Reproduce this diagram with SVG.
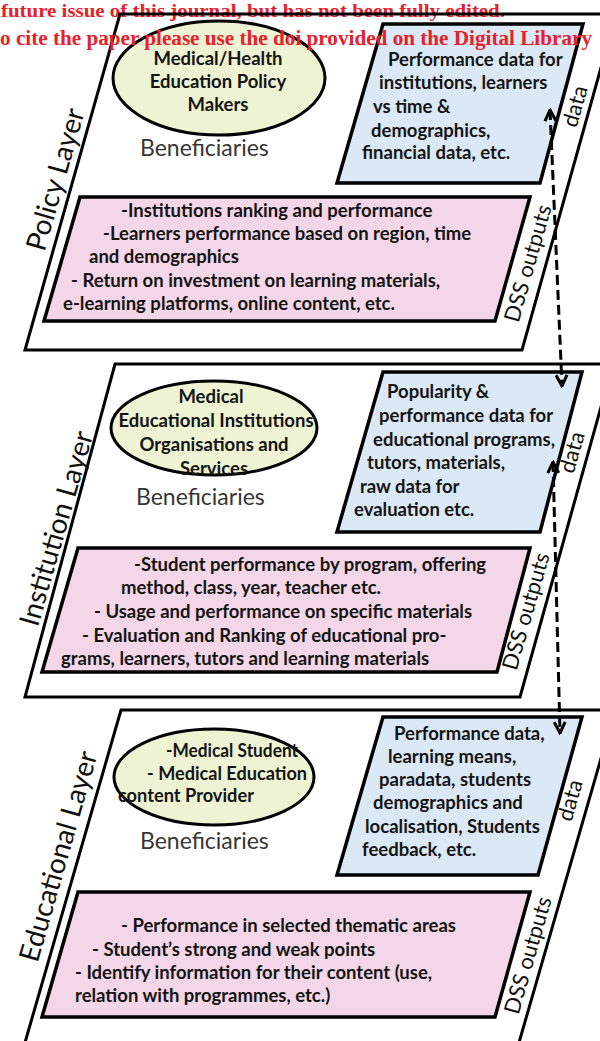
<svg xmlns="http://www.w3.org/2000/svg" width="600" height="1041" viewBox="0 0 600 1041">
<defs>
<style>
.outer{fill:none;stroke:#000;stroke-width:3}
.ell{fill:#eef3d3;stroke:#000;stroke-width:3}
.blue{fill:#dbe8f6;stroke:#000;stroke-width:3.5}
.pink{fill:#f3d6e7;stroke:#000;stroke-width:3.5}
.b{font-family:Lato,"Open Sans","Liberation Sans",sans-serif;font-weight:700;font-size:18.5px;fill:#141414}
.ben{font-family:Lato,"Open Sans","Liberation Sans",sans-serif;font-size:23px;fill:#363636}
.lay{font-family:Lato,"Open Sans","Liberation Sans",sans-serif;font-size:28px;fill:#111}
.side{font-family:Lato,"Open Sans","Liberation Sans",sans-serif;font-size:22px;fill:#111}
.red{font-family:"Liberation Serif","Times New Roman",serif;font-weight:700;fill:#e8202a}
.dash{fill:none;stroke:#000;stroke-width:3;stroke-dasharray:10 5}
</style>
<marker id="arr" viewBox="0 0 14 14" refX="12.5" refY="7" markerWidth="14" markerHeight="14" markerUnits="userSpaceOnUse" orient="auto-start-reverse">
<path d="M1.5,1.5 L12.5,7 L1.5,12.5" fill="none" stroke="#000" stroke-width="3" stroke-dasharray="none"/>
</marker>
</defs>
<rect width="600" height="1041" fill="#fff"/>
<text class="red" x="1" y="17" font-size="18" textLength="504" lengthAdjust="spacingAndGlyphs">future issue of this journal, but has not been fully edited.</text>

<g id="policy-layer">
<path class="outer" d="M120,14 L616,14 L522,350 L25,350 Z"/>
<text class="lay" transform="translate(54,179) rotate(-74)" text-anchor="middle" dominant-baseline="central">Policy Layer</text>
<text class="side" transform="translate(527,263) rotate(-74)" text-anchor="middle" dominant-baseline="central">DSS outputs</text>
<text class="side" transform="translate(574,106) rotate(-74)" text-anchor="middle" dominant-baseline="central">data</text>
</g>
<g id="policy-beneficiaries">
<ellipse class="ell" cx="219" cy="78" rx="106" ry="57"/>
<text class="b" x="218" y="65" text-anchor="middle">Medical/Health</text>
<text class="b" x="218" y="88" text-anchor="middle">Education Policy</text>
<text class="b" x="218" y="111" text-anchor="middle">Makers</text>
<text class="ben" x="140" y="156">Beneficiaries</text>
</g>
<g id="policy-data">
<path class="blue" d="M383,24 L583,24 L540,183 L337,183 Z"/>
<text class="b" x="388" y="66">Performance data for</text>
<text class="b" x="379" y="89">institutions, learners</text>
<text class="b" x="373" y="113">vs time &amp;</text>
<text class="b" x="371" y="137">demographics,</text>
<text class="b" x="362" y="159">financial data, etc.</text>
</g>
<g id="policy-outputs">
<path class="pink" d="M80,197 L530,197 L495,321 L44,321 Z"/>
<text class="b" x="121" y="217">-Institutions ranking and performance</text>
<text class="b" x="103" y="240">-Learners performance based on region, time</text>
<text class="b" x="89" y="263">and demographics</text>
<text class="b" x="71" y="287">- Return on investment on learning materials,</text>
<text class="b" x="63" y="310">e-learning platforms, online content, etc.</text>
</g>

<g id="institution-layer">
<path class="outer" d="M115,364 L613,364 L520,697 L25,697 Z"/>
<text class="lay" transform="translate(55,528) rotate(-74)" text-anchor="middle" dominant-baseline="central">Institution Layer</text>
<text class="side" transform="translate(525,611) rotate(-74)" text-anchor="middle" dominant-baseline="central">DSS outputs</text>
<text class="side" transform="translate(571,452) rotate(-74)" text-anchor="middle" dominant-baseline="central">data</text>
</g>
<g id="institution-beneficiaries">
<ellipse class="ell" cx="214" cy="428" rx="103" ry="47"/>
<text class="b" x="211" y="403" text-anchor="middle">Medical</text>
<text class="b" x="216" y="427" text-anchor="middle">Educational Institutions</text>
<text class="b" x="214" y="451" text-anchor="middle">Organisations and</text>
<text class="b" x="214" y="475" text-anchor="middle">Services</text>
<text class="ben" x="136" y="505">Beneficiaries</text>
</g>
<g id="institution-data">
<path class="blue" d="M383,372 L582,372 L540,532 L337,532 Z"/>
<text class="b" x="387" y="398">Popularity &amp;</text>
<text class="b" x="379" y="422">performance data for</text>
<text class="b" x="373" y="446">educational programs,</text>
<text class="b" x="367" y="469">tutors, materials,</text>
<text class="b" x="360" y="493">raw data for</text>
<text class="b" x="354" y="516">evaluation etc.</text>
</g>
<g id="institution-outputs">
<path class="pink" d="M78,548 L530,548 L497,672 L42,672 Z"/>
<text class="b" x="134" y="571">-Student performance by program, offering</text>
<text class="b" x="121" y="594">method, class, year, teacher etc.</text>
<text class="b" x="94" y="618">- Usage and performance on specific materials</text>
<text class="b" x="82" y="642">- Evaluation and Ranking of educational pro-</text>
<text class="b" x="61" y="665">grams, learners, tutors and learning materials</text>
</g>

<g id="educational-layer">
<path class="outer" d="M121,710 L615,710 L518,1046 L24,1046 Z"/>
<text class="lay" transform="translate(57,856) rotate(-74)" text-anchor="middle" dominant-baseline="central">Educational Layer</text>
<text class="side" transform="translate(527,955) rotate(-74)" text-anchor="middle" dominant-baseline="central">DSS outputs</text>
<text class="side" transform="translate(569,800) rotate(-74)" text-anchor="middle" dominant-baseline="central">data</text>
</g>
<g id="educational-beneficiaries">
<ellipse class="ell" cx="214" cy="777" rx="100" ry="48"/>
<text class="b" x="166" y="757" textLength="132" lengthAdjust="spacingAndGlyphs">-Medical Student</text>
<text class="b" x="147" y="780" textLength="160" lengthAdjust="spacingAndGlyphs">- Medical Education</text>
<text class="b" x="118" y="802" textLength="136" lengthAdjust="spacingAndGlyphs">content Provider</text>
<text class="ben" x="140" y="849">Beneficiaries</text>
</g>
<g id="educational-data">
<path class="blue" d="M383,717 L582,717 L538,875 L337,875 Z"/>
<text class="b" x="394" y="740">Performance data,</text>
<text class="b" x="388" y="763">learning means,</text>
<text class="b" x="379" y="786">paradata, students</text>
<text class="b" x="373" y="809">demographics and</text>
<text class="b" x="365" y="833">localisation, Students</text>
<text class="b" x="362" y="856">feedback, etc.</text>
</g>
<g id="educational-outputs">
<path class="pink" d="M78,892 L530,892 L495,1017 L42,1017 Z"/>
<text class="b" x="121" y="932">- Performance in selected thematic areas</text>
<text class="b" x="92" y="956">- Student’s strong and weak points</text>
<text class="b" x="75" y="979">- Identify information for their content (use,</text>
<text class="b" x="75" y="1002">relation with programmes, etc.)</text>
</g>

<g id="connectors">
<path class="dash" d="M550,110 L562,386" marker-start="url(#arr)" marker-end="url(#arr)"/>
<path class="dash" d="M553,462 L560,733" marker-start="url(#arr)" marker-end="url(#arr)"/>
</g>

<text class="red" x="0" y="45" font-size="20" textLength="592" lengthAdjust="spacingAndGlyphs">o cite the paper please use the doi provided on the Digital Library</text>
</svg>
